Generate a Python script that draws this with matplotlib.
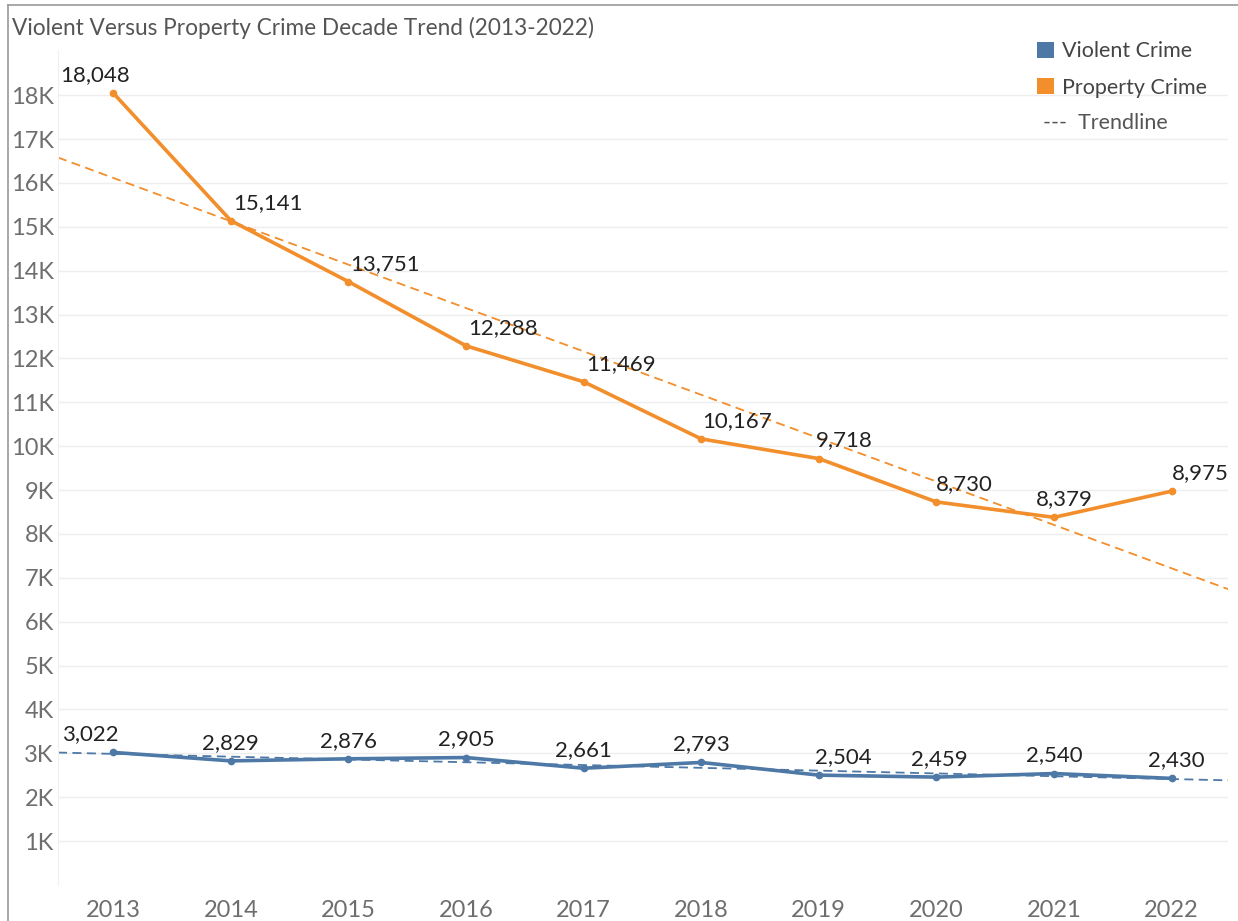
import matplotlib

matplotlib.use("Agg")
import matplotlib.pyplot as plt
import numpy as np
from matplotlib.lines import Line2D
from matplotlib.patches import Patch

plt.rcParams["font.family"] = ["Lato", "DejaVu Sans"]

years = [2013, 2014, 2015, 2016, 2017, 2018, 2019, 2020, 2021, 2022]
violent = [3022, 2829, 2876, 2905, 2661, 2793, 2504, 2459, 2540, 2430]
property_crime = [18048, 15141, 13751, 12288, 11469, 10167, 9718, 8730, 8379, 8975]
y_ticks = [1000 * k for k in range(1, 19)]
y_tick_labels = [f"{k}K" for k in range(1, 19)]

COLOR_BLUE = "#4e79a7"
COLOR_ORANGE = "#f28e2b"
COLOR_GRID = "#eeeeee"
COLOR_TICK = "#6e6e6e"

# label x-offsets (pixels) to mimic Tableau's collision avoidance
prop_dx = [-18, 37, 37, 37, 37, 36, 26, 28, 10, 29]
viol_dx = [-23, 0, 0, 0, 0, 0, 25, 3, 0, 5]
PX = 72 / 100  # pixels -> points

fig = plt.figure(figsize=(12.38, 9.21), dpi=100)
ax = fig.add_axes([58 / 1238, 1 - 885 / 921, (1228 - 58) / 1238, (885 - 50) / 921])

x = np.arange(len(years))
xlim = (-0.47, 9.48)

for values, color, dxs in [(property_crime, COLOR_ORANGE, prop_dx), (violent, COLOR_BLUE, viol_dx)]:
    ax.plot(x, values, color=color, linewidth=2.6, marker="o", markersize=4.5, zorder=3)
    slope, intercept = np.polyfit(x, values, 1)
    xt = np.array(xlim)
    ax.plot(xt, slope * xt + intercept, color=color, linewidth=1.3, linestyle=(0, (5, 3)), zorder=2)
    for xi, v, dx in zip(x, values, dxs):
        ax.annotate(f"{v:,}", (xi, v), xytext=(dx * PX, 18 * PX), textcoords="offset points",
                    ha="center", va="center", fontsize=16, color="#222222", zorder=4)

ax.set_xlim(*xlim)
ax.set_ylim(0, 19030)
ax.set_xticks(x)
ax.set_xticklabels([str(y) for y in years])
ax.set_yticks(y_ticks)
ax.set_yticklabels(y_tick_labels)
ax.tick_params(axis="both", length=0, colors=COLOR_TICK, labelsize=17)
ax.tick_params(axis="y", pad=3)
ax.tick_params(axis="x", pad=11)
ax.grid(axis="y", color=COLOR_GRID, linewidth=1.0)
ax.set_axisbelow(True)
for name, spine in ax.spines.items():
    if name == "left":
        spine.set_color("#f0f0f0")
    else:
        spine.set_visible(False)

fig.text(12 / 1238, 1 - 28 / 921, "Violent Versus Property Crime Decade Trend (2013-2022)",
         fontsize=16.3, color="#555555", va="center", ha="left")

# outer frame (left + top)
fig.add_artist(Line2D([8 / 1238, 8 / 1238], [0, 1 - 5 / 921], color="#999999", linewidth=1.2))
fig.add_artist(Line2D([8 / 1238, 1], [1 - 5 / 921, 1 - 5 / 921], color="#999999", linewidth=1.2))

handles = [
    Patch(facecolor=COLOR_BLUE, label="Violent Crime"),
    Patch(facecolor=COLOR_ORANGE, label="Property Crime"),
]
leg = fig.legend(handles=handles, loc="upper left", bbox_to_anchor=(1018 / 1238, 1 - 22 / 921),
                 frameon=False, fontsize=15.5, handlelength=0.75, handleheight=0.75,
                 handletextpad=0.4, labelspacing=0.75)
for t in leg.get_texts():
    t.set_color("#444444")
fig.text(1043 / 1238, 1 - 123 / 921, "---  Trendline", fontsize=15.5, color="#555555",
         va="center", ha="left")

fig.savefig("out.png", dpi=100, facecolor="white")
